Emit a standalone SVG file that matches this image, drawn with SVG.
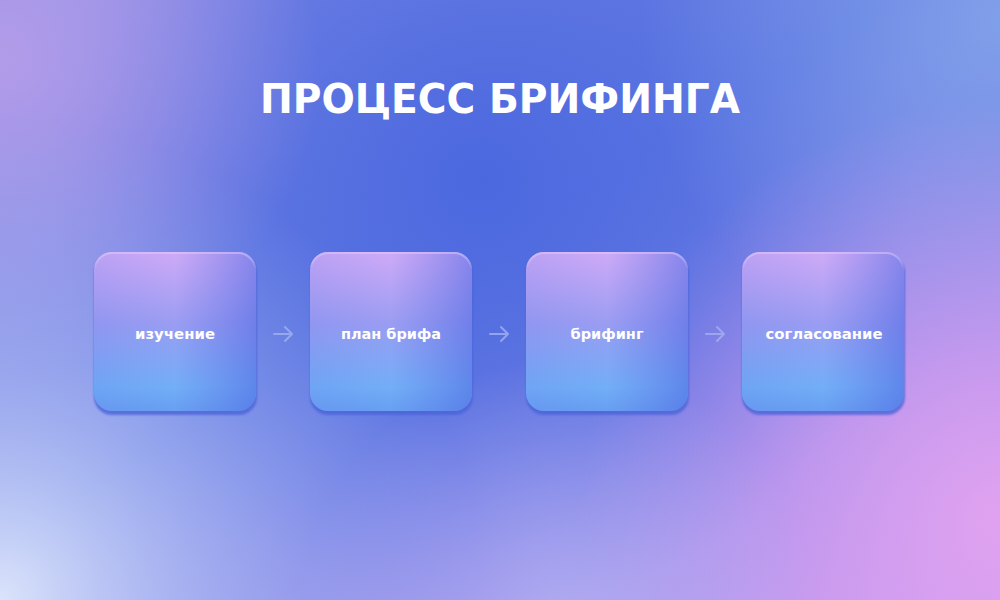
<svg xmlns="http://www.w3.org/2000/svg" width="1000" height="600" viewBox="0 0 1000 600">
  <defs>
    <linearGradient id="bgBase" x1="0" y1="0" x2="1" y2="1">
      <stop offset="0" stop-color="#8f8ee6"/>
      <stop offset="0.45" stop-color="#5a74e2"/>
      <stop offset="1" stop-color="#c99cf0"/>
    </linearGradient>
    <radialGradient id="bgBlue" cx="480" cy="180" r="430" gradientUnits="userSpaceOnUse">
      <stop offset="0" stop-color="#4c68df" stop-opacity="1"/>
      <stop offset="0.6" stop-color="#5470e0" stop-opacity="0.6"/>
      <stop offset="1" stop-color="#5470e0" stop-opacity="0"/>
    </radialGradient>
    <radialGradient id="bgTL" cx="0" cy="60" r="320" gradientUnits="userSpaceOnUse">
      <stop offset="0" stop-color="#b29ce9" stop-opacity="1"/>
      <stop offset="1" stop-color="#b29ce9" stop-opacity="0"/>
    </radialGradient>
    <radialGradient id="bgTR" cx="1000" cy="20" r="360" gradientUnits="userSpaceOnUse">
      <stop offset="0" stop-color="#809fe9" stop-opacity="1"/>
      <stop offset="1" stop-color="#809fe9" stop-opacity="0"/>
    </radialGradient>
    <radialGradient id="bgBL" cx="0" cy="600" r="480" gradientUnits="userSpaceOnUse">
      <stop offset="0" stop-color="#dbe4fb" stop-opacity="1"/>
      <stop offset="0.45" stop-color="#bcc6f5" stop-opacity="0.6"/>
      <stop offset="1" stop-color="#a6b4f0" stop-opacity="0"/>
    </radialGradient>
    <radialGradient id="bgBR" cx="1000" cy="520" r="420" gradientUnits="userSpaceOnUse">
      <stop offset="0" stop-color="#e0a2f0" stop-opacity="1"/>
      <stop offset="1" stop-color="#d49ef0" stop-opacity="0"/>
    </radialGradient>
    <radialGradient id="bgBM" cx="560" cy="620" r="260" gradientUnits="userSpaceOnUse">
      <stop offset="0" stop-color="#b4b2f2" stop-opacity="0.8"/>
      <stop offset="1" stop-color="#b4b2f2" stop-opacity="0"/>
    </radialGradient>

    <linearGradient id="boxV" x1="0" y1="0" x2="0" y2="1">
      <stop offset="0" stop-color="#cfaaf7"/>
      <stop offset="0.45" stop-color="#9a9df2"/>
      <stop offset="0.85" stop-color="#72aef7"/>
      <stop offset="1" stop-color="#689ff2"/>
    </linearGradient>
    <linearGradient id="boxH" x1="0" y1="0" x2="1" y2="0">
      <stop offset="0" stop-color="#5b6fe4" stop-opacity="0.15"/>
      <stop offset="0.5" stop-color="#5b6fe4" stop-opacity="0"/>
      <stop offset="1" stop-color="#4d66e2" stop-opacity="0.55"/>
    </linearGradient>
    <linearGradient id="boxEdge" x1="0" y1="0" x2="0" y2="1">
      <stop offset="0" stop-color="#e2ccfb" stop-opacity="0.5"/>
      <stop offset="0.1" stop-color="#ffffff" stop-opacity="0"/>
      <stop offset="1" stop-color="#ffffff" stop-opacity="0"/>
    </linearGradient>
    <filter id="soft" x="-20%" y="-20%" width="140%" height="140%">
      <feGaussianBlur stdDeviation="1.2"/>
    </filter>
    <style>
      .box-shadow { fill: #4b64d8; opacity: 0.8; }
      .box-v { fill: url(#boxV); }
      .box-h { fill: url(#boxH); }
      .box-edge { fill: none; stroke: url(#boxEdge); stroke-width: 2; }
      .label { font-family: "DejaVu Sans", "Liberation Sans", sans-serif; font-weight: bold; font-size: 14px; fill: #ffffff; text-anchor: middle; }
      .title { font-family: "DejaVu Sans", "Liberation Sans", sans-serif; font-weight: bold; font-size: 40px; fill: #ffffff; }
      .arrow { fill: none; stroke: #a3b0f0; stroke-width: 2; stroke-linecap: round; stroke-linejoin: round; opacity: 0.8; }
    </style>
  </defs>

  <g id="background">
    <rect width="1000" height="600" fill="url(#bgBase)"/>
    <rect width="1000" height="600" fill="url(#bgBlue)"/>
    <rect width="1000" height="600" fill="url(#bgTL)"/>
    <rect width="1000" height="600" fill="url(#bgTR)"/>
    <rect width="1000" height="600" fill="url(#bgBR)"/>
    <rect width="1000" height="600" fill="url(#bgBM)"/>
    <rect width="1000" height="600" fill="url(#bgBL)"/>
  </g>

  <g id="title">
    <text class="title" x="260" y="113" textLength="480" lengthAdjust="spacingAndGlyphs">ПРОЦЕСС БРИФИНГА</text>
  </g>

  <g id="connectors">
    <path class="arrow" d="M274 334 H292 M285 327 L292 334 L285 341"/>
    <path class="arrow" d="M490 334 H508 M501 327 L508 334 L501 341"/>
    <path class="arrow" d="M706 334 H724 M717 327 L724 334 L717 341"/>
  </g>

  <g id="node-1">
    <rect class="box-shadow" x="94" y="255" width="163" height="160" rx="18" filter="url(#soft)"/>
    <rect class="box-v" x="94" y="252" width="162" height="159" rx="18"/>
    <rect class="box-h" x="94" y="252" width="162" height="159" rx="18"/>
    <rect class="box-edge" x="95" y="253" width="160" height="157" rx="17"/>
    <text class="label" x="175" y="339" textLength="80" lengthAdjust="spacingAndGlyphs">изучение</text>
  </g>

  <g id="node-2">
    <rect class="box-shadow" x="310" y="255" width="163" height="160" rx="18" filter="url(#soft)"/>
    <rect class="box-v" x="310" y="252" width="162" height="159" rx="18"/>
    <rect class="box-h" x="310" y="252" width="162" height="159" rx="18"/>
    <rect class="box-edge" x="311" y="253" width="160" height="157" rx="17"/>
    <text class="label" x="391" y="339" textLength="100" lengthAdjust="spacingAndGlyphs">план брифа</text>
  </g>

  <g id="node-3">
    <rect class="box-shadow" x="526" y="255" width="163" height="160" rx="18" filter="url(#soft)"/>
    <rect class="box-v" x="526" y="252" width="162" height="159" rx="18"/>
    <rect class="box-h" x="526" y="252" width="162" height="159" rx="18"/>
    <rect class="box-edge" x="527" y="253" width="160" height="157" rx="17"/>
    <text class="label" x="607" y="339" textLength="73" lengthAdjust="spacingAndGlyphs">брифинг</text>
  </g>

  <g id="node-4">
    <rect class="box-shadow" x="742" y="255" width="163" height="160" rx="18" filter="url(#soft)"/>
    <rect class="box-v" x="742" y="252" width="162" height="159" rx="18"/>
    <rect class="box-h" x="742" y="252" width="162" height="159" rx="18"/>
    <rect class="box-edge" x="743" y="253" width="160" height="157" rx="17"/>
    <text class="label" x="824" y="339" textLength="117" lengthAdjust="spacingAndGlyphs">согласование</text>
  </g>
</svg>
